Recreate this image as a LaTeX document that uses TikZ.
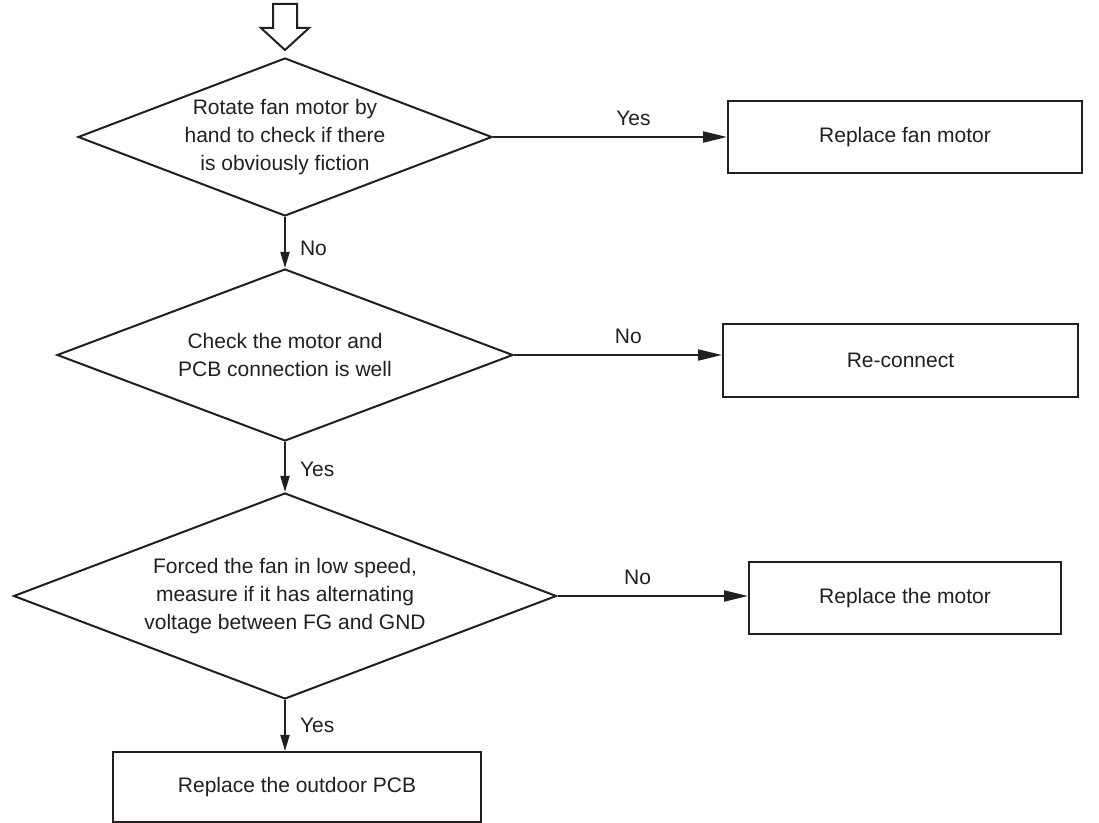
\documentclass[tikz,border=0pt]{standalone}
\usepackage{fontspec}
\setmainfont{Liberation Sans}
\usetikzlibrary{shapes.geometric,arrows.meta}
\definecolor{pen}{RGB}{35,31,32}
\begin{document}
\begin{tikzpicture}[x=0.5pt,y=-0.5pt,line width=1pt,
  decision/.style={draw=pen,diamond,inner sep=0pt,align=center,text=pen,
    font=\fontsize{10.5}{13.8}\selectfont},
  action/.style={draw=pen,rectangle,inner sep=0pt,text=pen,
    font=\fontsize{10.5}{13.8}\selectfont},
  flow/.style={draw=pen,-{Triangle[length=12pt,width=5.5pt]}},
  drop/.style={draw=pen,-{Triangle[length=8pt,width=4.5pt]}},
  tag/.style={font=\fontsize{10.5}{12}\selectfont,inner sep=0pt,text=pen}]
\useasboundingbox (0,0) rectangle (1099,823);
% entry arrow
\draw[draw=pen,line join=miter] (273,4) -- (297,4) -- (297,28) -- (309,28) -- (285,50) -- (261,28) -- (273,28) -- cycle;
% decisions
\node[decision,minimum width=207pt,minimum height=79pt,aspect=2.6] (turn) at (285,137)
  {Rotate fan motor by\\hand to check if there\\is obviously fiction};
\node[decision,minimum width=228pt,minimum height=86pt,aspect=2.6] (wiring) at (285,355)
  {Check the motor and\\PCB connection is well};
\node[decision,minimum width=271.5pt,minimum height=103pt,aspect=2.6] (signal) at (285,596)
  {Forced the fan in low speed,\\measure if it has alternating\\voltage between FG and GND};
% actions
\foreach \n/\x/\y/\w/\h/\t in {fan/905/137/177/36/Replace fan motor,
  link/900.5/360.5/177.5/36.5/Re-connect,
  motor/905/598/156/36/Replace the motor,
  pcb/297/787/184/35/Replace the outdoor PCB}
  \node[action,minimum width=\w pt,minimum height=\h pt] (\n) at (\x,\y) {\t};
% connectors
\draw[flow] (turn.east) -- node[tag,pos=0.6,above=5pt] {Yes} (turn.east -| fan.west);
\draw[flow] (wiring.east) -- node[tag,pos=0.55,above=5pt] {No} (wiring.east -| link.west);
\draw[flow] (signal.east) -- node[tag,pos=0.42,above=5pt] {No} (signal.east -| motor.west);
\draw[drop] (turn.south) -- node[tag,pos=0.62,right=7pt] {No} (wiring.north);
\draw[drop] (wiring.south) -- node[tag,pos=0.55,right=7pt] {Yes} (signal.north);
\draw[drop] (signal.south) -- node[tag,pos=0.5,right=7pt] {Yes} (signal.south |- pcb.north);
\end{tikzpicture}
\end{document}
